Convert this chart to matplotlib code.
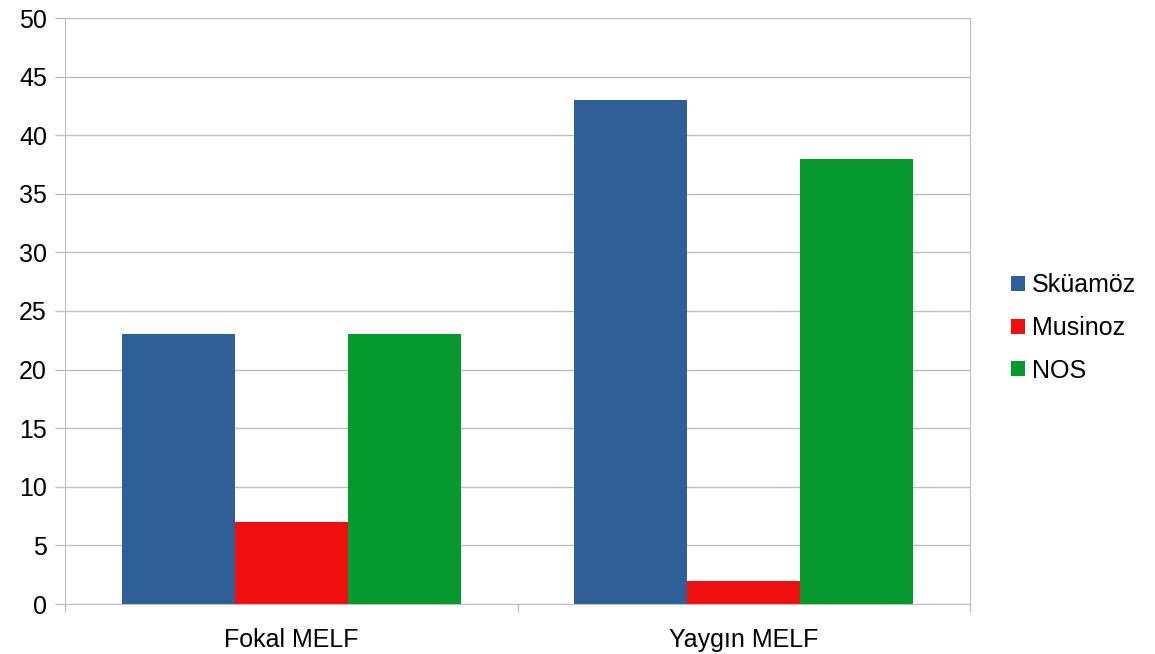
import matplotlib.pyplot as plt
import numpy as np

plt.rcParams['font.family'] = ['Liberation Sans', 'DejaVu Sans']

categories = ['Fokal MELF', 'Yaygın MELF']
series = ['Sküamöz', 'Musinoz', 'NOS']
skuamoz = [23, 43]
musinoz = [7, 2]
nos = [23, 38]
colors = ['#2E5F97', '#F00F0F', '#069A2E']

fig = plt.figure(figsize=(11.55, 6.54), dpi=100)
ax = fig.add_axes([65 / 1155, 1 - 604 / 654, 905 / 1155, 586 / 654])

x = np.arange(len(categories))
w = 0.25
for i, (vals, name) in enumerate(zip([skuamoz, musinoz, nos], series)):
    ax.bar(x + (i - 1) * w, vals, w, color=colors[i], label=name, zorder=3)

ax.set_xlim(-0.5, 1.5)
ax.set_ylim(0, 50)
ax.set_yticks(np.arange(0, 51, 5))
ax.yaxis.grid(True, color='#BFBFBF', linewidth=1, zorder=0)
ax.set_xticks(x)
ax.set_xticklabels(categories)
ax.set_xticks([-0.5, 0.5, 1.5], minor=True)
ax.tick_params(axis='x', which='major', length=0, pad=17, labelsize=18)
ax.tick_params(axis='x', which='minor', length=6, color='#BFBFBF', width=1)
ax.tick_params(axis='y', length=7, color='#BFBFBF', width=1, labelsize=18, pad=6)
for s in ['left', 'bottom', 'right']:
    ax.spines[s].set_color('#BFBFBF')
ax.spines['top'].set_visible(False)

fig.legend(loc='center left', bbox_to_anchor=(1001 / 1155, 1 - 328 / 654),
           frameon=False, fontsize=18, handlelength=0.55, handleheight=0.55,
           handletextpad=0.3, labelspacing=0.75, borderaxespad=0)

fig.savefig('out.png', dpi=100)
